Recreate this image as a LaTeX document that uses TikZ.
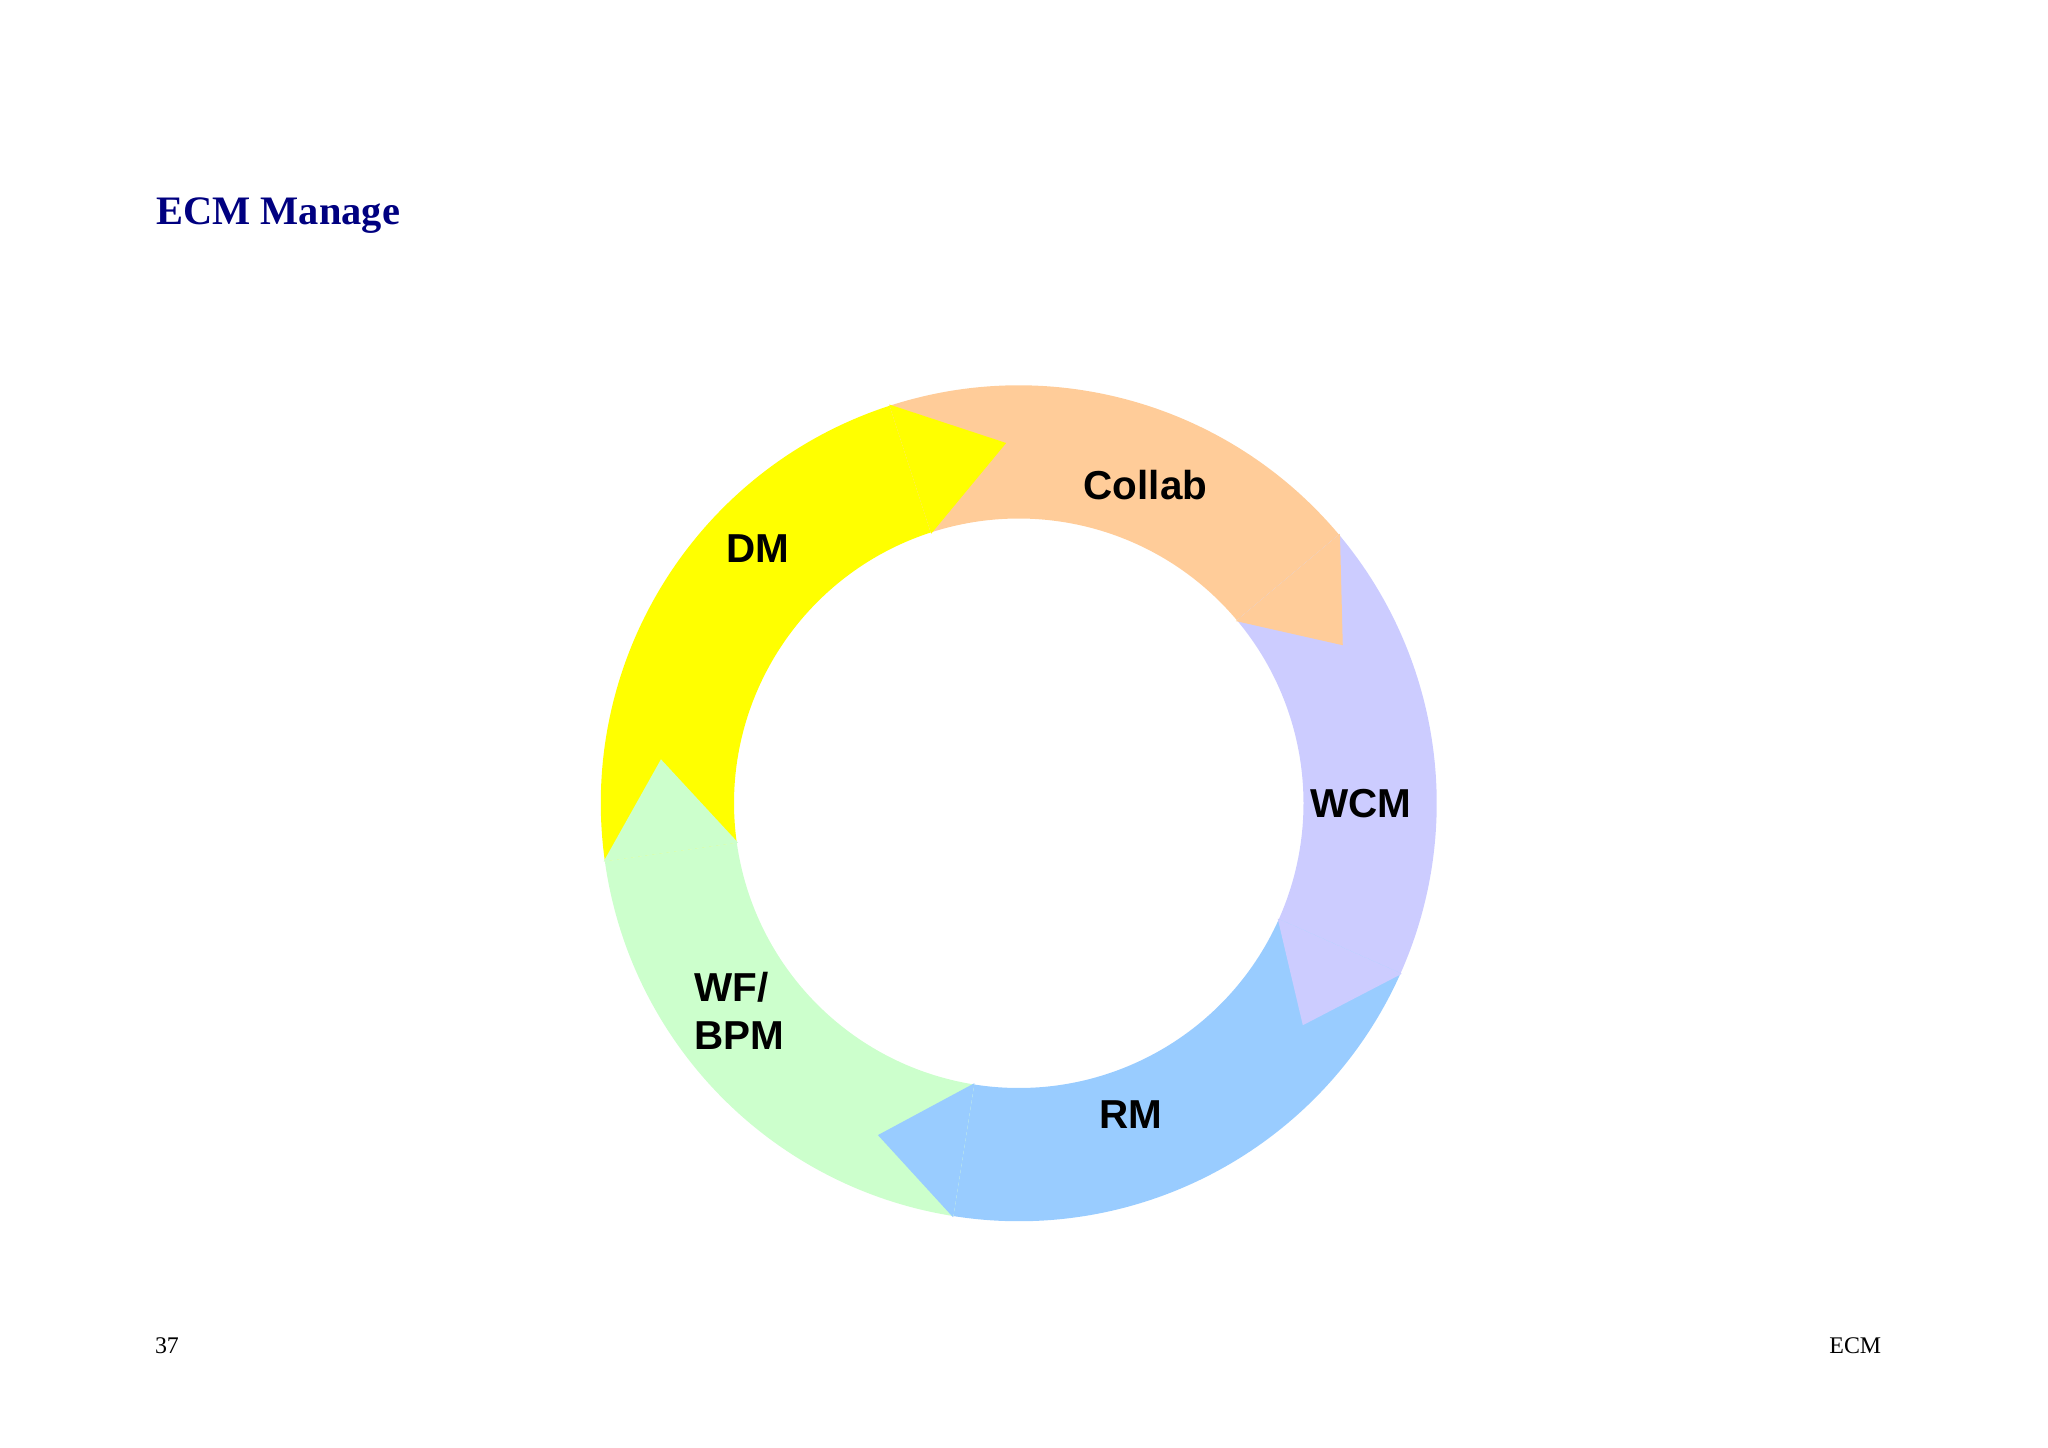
\documentclass[tikz,border=0pt]{standalone}
\usepackage{fontspec}
\setmainfont{Liberation Serif}
\newfontfamily\lsans{Liberation Sans}
\usetikzlibrary{calc}
\definecolor{cDM}{HTML}{FFFF00}
\definecolor{cCO}{HTML}{FFCC99}
\definecolor{cWC}{HTML}{CCCCFF}
\definecolor{cRM}{HTML}{99CCFF}
\definecolor{cWF}{HTML}{CCFFCC}
\definecolor{navy}{HTML}{000080}
\begin{document}
\begin{tikzpicture}[x=0.01cm,y=0.01cm,
  lab/.style={font=\lsans\bfseries\fontsize{8.8}{10.5}\selectfont, inner sep=0pt},
  foot/.style={font=\fontsize{5.2}{6}\selectfont, inner sep=0pt}]
\useasboundingbox (0,0) rectangle (1568,1108);
\coordinate (C) at (780,493);
\newcommand{\body}[3]{\fill[#3] ($(C)+(#1:320)$) arc[start angle=#1,end angle=#2,radius=320] -- ($(C)+(#2:218)$) arc[start angle=#2,end angle=#1,radius=218] -- cycle;}
\newcommand{\head}[3]{\fill[#3] ($(C)+(#1:321)$) -- ($(C)+(#2:276)$) -- ($(C)+(#1:217)$) -- cycle;}
\body{188}{108}{cDM}
\body{108}{40}{cCO}
\body{40}{-24}{cWC}
\body{-24}{-99}{cRM}
\body{261}{188}{cWF}
\head{108}{92}{cDM}
\head{40}{26}{cCO}
\head{-24}{-38}{cWC}
\head{-99}{-113}{cRM}
\head{188}{173}{cWF}
\node[lab] (dm) at (580,688) {DM};
\node[lab] (co) at (877,737) {Collab};
\node[lab] (wcm) at (1042,493) {WCM};
\node[lab, align=left, anchor=west] (wf) at (531,334) {WF/\\BPM};
\node[lab] (rm) at (866,255) {RM};
\node[anchor=west, inner sep=0pt, text=navy, font=\bfseries\fontsize{8.8}{10}\selectfont] (title) at (119,943) {ECM Manage};
\node[foot, anchor=west] (pg) at (118,78) {37};
\node[foot, anchor=east] (ecm) at (1441,78) {ECM};
\end{tikzpicture}
\end{document}
